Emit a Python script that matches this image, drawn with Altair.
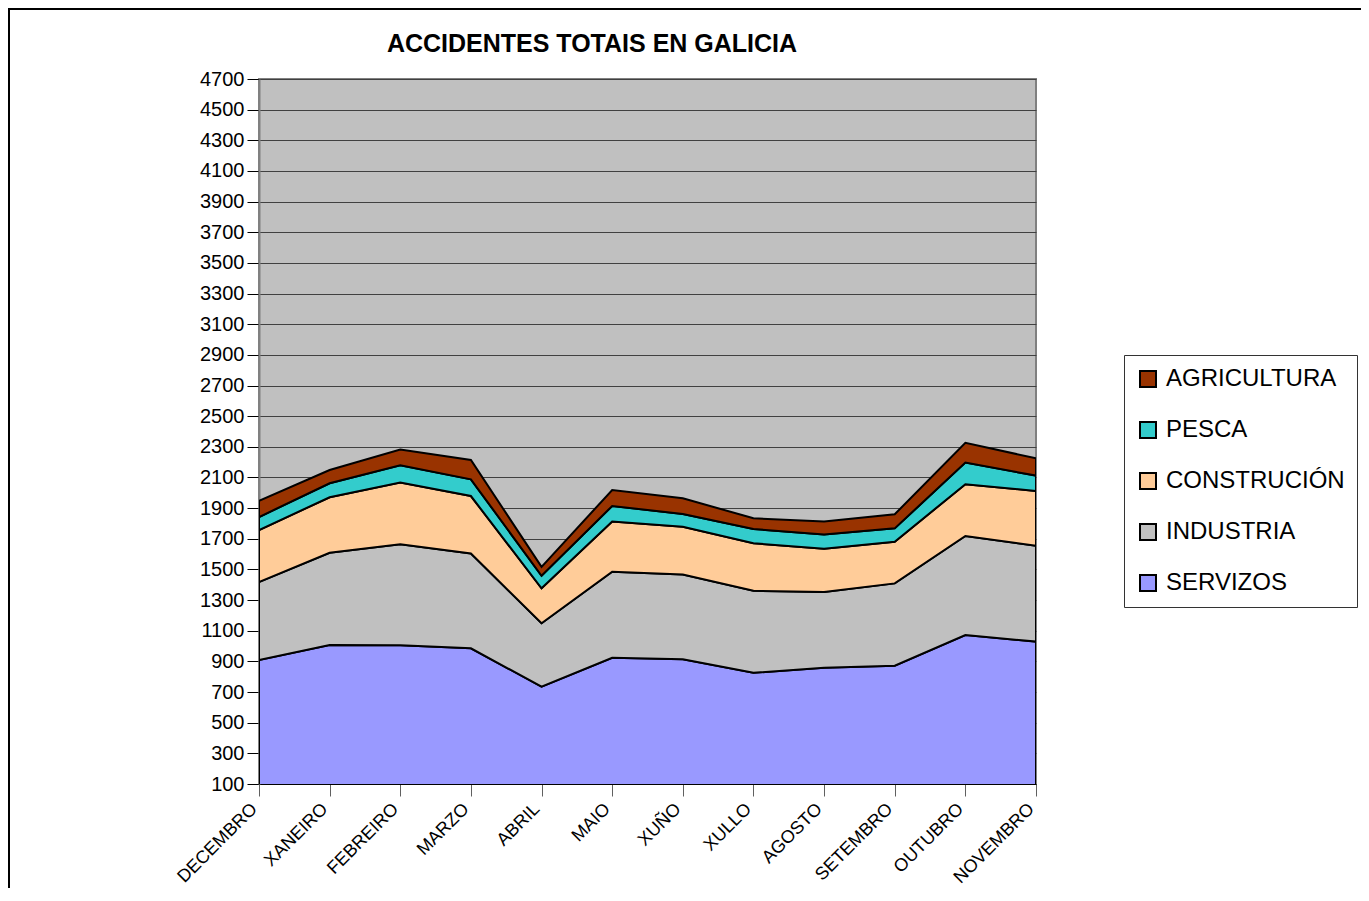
import altair as alt
import pandas as pd

months = ["DECEMBRO", "XANEIRO", "FEBREIRO", "MARZO", "ABRIL", "MAIO", "XUÑO",
          "XULLO", "AGOSTO", "SETEMBRO", "OUTUBRO", "NOVEMBRO"]
servizos = [909, 1007, 1005, 985, 735, 924, 914, 826, 858, 872, 1072, 1029]
industria = [509, 602, 659, 619, 414, 561, 553, 535, 494, 537, 646, 625]
construcion = [339, 362, 403, 375, 228, 327, 311, 310, 283, 272, 338, 358]
pesca = [85, 91, 112, 109, 82, 102, 84, 93, 93, 87, 141, 100]
agricultura = [105, 87, 103, 126, 58, 104, 102, 70, 85, 92, 129, 113]

series_names = ["SERVIZOS", "INDUSTRIA", "CONSTRUCIÓN", "PESCA", "AGRICULTURA"]
series_values = [servizos, industria, construcion, pesca, agricultura]
colors = ["#9999FF", "#C0C0C0", "#FFCC99", "#33CCCC", "#993300"]
y_ticks = list(range(100, 4701, 200))
title_text = "ACCIDENTES TOTAIS EN GALICIA"

rows = []
for si, (name, vals) in enumerate(zip(series_names, series_values)):
    for m, v in zip(months, vals):
        rows.append({"mes": m, "sector": name, "valor": v, "orde": si})
df = pd.DataFrame(rows)

legend_order = list(reversed(series_names))

areas = alt.Chart(df).mark_area(
    stroke="black", strokeWidth=2, interpolate="linear", clip=True, opacity=1
).encode(
    x=alt.X("mes:N", sort=months, title=None,
            scale=alt.Scale(type="point", padding=0),
            axis=alt.Axis(labelAngle=-45, labelAlign="right", labelBaseline="middle",
                          labelFontSize=18, labelFont="Liberation Sans", labelColor="black",
                          tickSize=12, tickColor="#606060", domainColor="black",
                          labelPadding=10, labelOffset=-5, grid=False)),
    y=alt.Y("valor:Q", stack="zero", title=None,
            scale=alt.Scale(domain=[100, 4700], nice=False, zero=False),
            axis=alt.Axis(values=y_ticks, format="d", labelFontSize=20,
                          labelFont="Liberation Sans",
                          labelColor="black", tickSize=12, tickColor="black",
                          domainColor="#808080", domainWidth=2, grid=True,
                          gridColor="#404040", gridWidth=1, labelPadding=3)),
    color=alt.Color("sector:N",
                    scale=alt.Scale(domain=legend_order,
                                    range=list(reversed(colors))),
                    legend=alt.Legend(title=None, orient="none", legendX=865, legendY=276,
                                      labelFontSize=24, labelFont="Liberation Sans",
                                      labelColor="black", symbolType="square",
                                      symbolSize=256, symbolStrokeColor="black",
                                      symbolStrokeWidth=2, symbolOpacity=1,
                                      rowPadding=27, padding=12,
                                      strokeColor="#333333", fillColor="white",
                                      labelOffset=6, labelLimit=300)),
    order=alt.Order("orde:Q", sort="ascending"),
)

frame_df = pd.DataFrame({"k": [0]})
top_border = alt.Chart(frame_df).mark_rule(color="black", strokeWidth=2, clip=False).encode(
    x=alt.value(-251), x2=alt.value(1110), y=alt.value(-70))
left_border = alt.Chart(frame_df).mark_rule(color="black", strokeWidth=2, clip=False).encode(
    x=alt.value(-250), y=alt.value(-71), y2=alt.value(830))
title_mark = alt.Chart(frame_df).mark_text(
    font="Liberation Sans", fontSize=25, fontWeight="bold", color="black",
    align="center", baseline="alphabetic", clip=False
).encode(x=alt.value(333), y=alt.value(-27), text=alt.value(title_text))

chart = alt.layer(areas, top_border, left_border, title_mark).properties(
    width=777, height=705,
    autosize=alt.AutoSizeParams(type="none"),
    padding={"left": 251, "top": 71, "right": 325, "bottom": 104},
    background="white",
).configure_view(
    fill="#C0C0C0", stroke="#808080", strokeWidth=2
)

chart.save("out.html", embed_options={"renderer": "svg", "actions": False})
